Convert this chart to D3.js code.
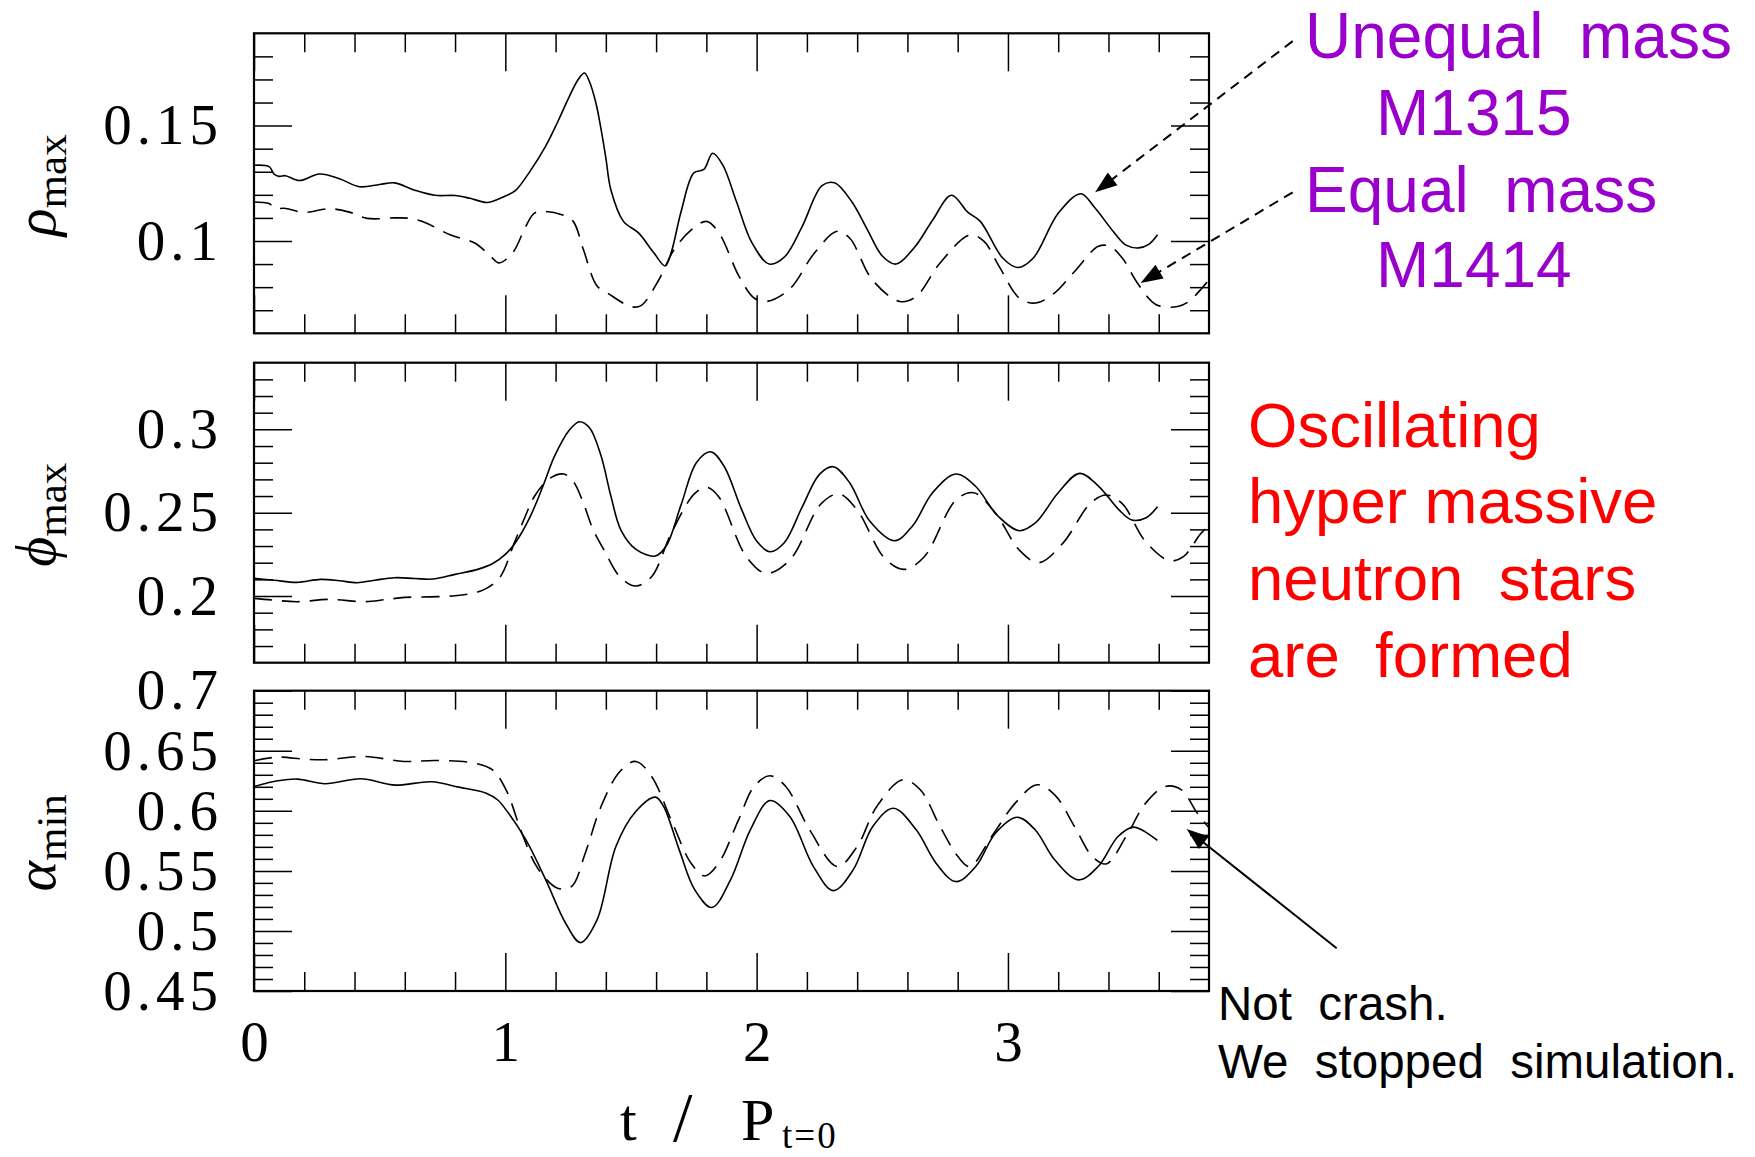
<!DOCTYPE html>
<html><head><meta charset="utf-8">
<script src="https://cdn.jsdelivr.net/npm/d3@7"></script>
<style>html,body{margin:0;padding:0;background:#fff;} svg{display:block;}</style>
</head><body>
<script>
// ---------------- DATA ----------------
// x ticks
const xTickLabels = [0, 1, 2, 3];
// y tick labels per panel
const yLabelsRho = [0.1, 0.15];
const yLabelsPhi = [0.2, 0.25, 0.3];
const yLabelsAlpha = [0.45, 0.5, 0.55, 0.6, 0.65, 0.7];

// rho_max, unequal mass M1315 (solid)
const tRhoU = [0.000,0.060,0.080,0.100,0.125,0.180,0.260,0.340,0.420,0.500,0.560,0.640,0.720,0.800,0.860,0.930,1.000,1.040,1.100,1.160,1.210,1.255,1.290,1.315,1.335,1.360,1.380,1.400,1.420,1.470,1.530,1.590,1.636,1.660,1.700,1.750,1.790,1.825,1.865,1.920,1.980,2.050,2.110,2.180,2.260,2.310,2.380,2.440,2.500,2.555,2.630,2.700,2.775,2.840,2.890,2.980,3.040,3.100,3.200,3.290,3.345,3.420,3.470,3.520,3.560,3.595];
const rhoU  = [0.1328,0.1322,0.1290,0.1280,0.1283,0.1262,0.1290,0.1270,0.1235,0.1245,0.1252,0.1220,0.1198,0.1197,0.1185,0.1167,0.1195,0.1218,0.1305,0.1410,0.1520,0.1627,0.1700,0.1728,0.1690,0.1600,0.1490,0.1360,0.1222,0.1085,0.1035,0.0950,0.0892,0.0950,0.1130,0.1295,0.1310,0.1380,0.1330,0.1170,0.0995,0.0900,0.0930,0.1060,0.1240,0.1252,0.1168,0.1050,0.0935,0.0900,0.0975,0.1090,0.1198,0.1125,0.1085,0.0925,0.0885,0.0925,0.1120,0.1205,0.1145,0.1040,0.0982,0.0970,0.0985,0.1027];
// rho_max, equal mass M1414 (dashed)
const tRhoE = [0.000,0.060,0.085,0.120,0.200,0.300,0.380,0.450,0.560,0.620,0.680,0.780,0.880,0.940,0.975,1.030,1.080,1.115,1.160,1.225,1.270,1.310,1.365,1.410,1.500,1.540,1.610,1.670,1.740,1.800,1.850,1.930,1.990,2.040,2.130,2.230,2.320,2.370,2.460,2.570,2.635,2.730,2.850,2.905,2.965,3.045,3.110,3.185,3.265,3.360,3.405,3.455,3.515,3.590,3.675,3.720,3.800];
const rhoE  = [0.1169,0.1162,0.1140,0.1142,0.1124,0.1140,0.1125,0.1098,0.1100,0.1098,0.1080,0.1027,0.0990,0.0935,0.0905,0.0950,0.1060,0.1120,0.1128,0.1114,0.1085,0.0965,0.0805,0.0772,0.0716,0.0720,0.0830,0.0960,0.1048,0.1085,0.1035,0.0847,0.0753,0.0738,0.0790,0.0948,0.1042,0.1013,0.0832,0.0738,0.0760,0.0905,0.1027,0.0998,0.0890,0.0753,0.0731,0.0774,0.0868,0.0977,0.0977,0.0926,0.0818,0.0724,0.0716,0.0738,0.0832];

// phi_max, unequal (solid)
const tPhiU = [0.000,0.080,0.170,0.265,0.340,0.410,0.480,0.560,0.640,0.710,0.800,0.890,0.950,1.000,1.040,1.100,1.150,1.195,1.255,1.295,1.335,1.380,1.420,1.460,1.520,1.597,1.640,1.700,1.760,1.817,1.870,1.940,2.000,2.053,2.110,2.180,2.250,2.305,2.370,2.450,2.549,2.620,2.700,2.793,2.870,2.960,3.045,3.110,3.200,3.285,3.360,3.440,3.493,3.550,3.595];
const phiU  = [0.2106,0.2095,0.2082,0.2100,0.2092,0.2080,0.2095,0.2110,0.2105,0.2102,0.2130,0.2160,0.2195,0.2250,0.2320,0.2480,0.2660,0.2836,0.2996,0.3046,0.3010,0.2846,0.2600,0.2396,0.2280,0.2240,0.2300,0.2550,0.2800,0.2866,0.2780,0.2520,0.2330,0.2266,0.2320,0.2530,0.2730,0.2776,0.2680,0.2450,0.2332,0.2420,0.2620,0.2732,0.2660,0.2480,0.2392,0.2440,0.2620,0.2736,0.2660,0.2520,0.2456,0.2470,0.2536];
// phi_max, equal (dashed)
const tPhiE = [0.000,0.080,0.170,0.300,0.440,0.520,0.600,0.700,0.800,0.880,0.925,0.980,1.035,1.080,1.115,1.177,1.232,1.271,1.310,1.350,1.393,1.456,1.519,1.582,1.660,1.754,1.802,1.849,1.959,2.038,2.132,2.258,2.329,2.400,2.510,2.588,2.667,2.793,2.864,2.951,3.045,3.123,3.218,3.328,3.391,3.454,3.548,3.643,3.698,3.768,3.800];
const phiE  = [0.1986,0.1975,0.1966,0.1980,0.1966,0.1978,0.1992,0.1995,0.2002,0.2020,0.2046,0.2116,0.2316,0.2480,0.2596,0.2706,0.2732,0.2686,0.2560,0.2396,0.2276,0.2116,0.2060,0.2116,0.2376,0.2616,0.2652,0.2596,0.2236,0.2136,0.2216,0.2556,0.2612,0.2516,0.2226,0.2160,0.2236,0.2576,0.2620,0.2496,0.2276,0.2200,0.2316,0.2556,0.2606,0.2556,0.2326,0.2212,0.2236,0.2376,0.2420];

// alpha_min, unequal (solid)
const tAlpU = [0.000,0.050,0.094,0.173,0.283,0.424,0.563,0.705,0.815,0.924,0.970,1.003,1.082,1.161,1.240,1.299,1.365,1.440,1.519,1.597,1.629,1.692,1.754,1.822,1.896,1.975,2.053,2.132,2.226,2.305,2.384,2.462,2.544,2.635,2.714,2.793,2.872,2.950,3.037,3.108,3.186,3.281,3.359,3.438,3.501,3.595];
const alpU  = [0.6203,0.6230,0.6250,0.6264,0.6225,0.6267,0.6214,0.6242,0.6197,0.6147,0.6090,0.6008,0.5758,0.5425,0.5064,0.4903,0.5092,0.5703,0.5994,0.6114,0.6040,0.5675,0.5342,0.5195,0.5425,0.5842,0.6086,0.5953,0.5536,0.5336,0.5508,0.5869,0.6022,0.5842,0.5564,0.5411,0.5536,0.5814,0.5947,0.5842,0.5592,0.5425,0.5536,0.5786,0.5864,0.5753];
// alpha_min, equal (dashed)
const tAlpE = [0.000,0.094,0.200,0.283,0.440,0.596,0.722,0.878,0.948,1.003,1.066,1.129,1.208,1.263,1.318,1.381,1.456,1.519,1.582,1.660,1.739,1.794,1.849,1.928,1.990,2.053,2.116,2.211,2.321,2.400,2.478,2.581,2.651,2.730,2.801,2.848,2.935,3.029,3.115,3.186,3.265,3.336,3.391,3.470,3.548,3.627,3.690,3.753,3.800];
const alpE  = [0.6417,0.6447,0.6430,0.6425,0.6453,0.6411,0.6419,0.6397,0.6342,0.6175,0.5814,0.5522,0.5356,0.5369,0.5647,0.6036,0.6328,0.6411,0.6286,0.5925,0.5564,0.5458,0.5564,0.5925,0.6203,0.6292,0.6203,0.5842,0.5536,0.5703,0.6036,0.6258,0.6175,0.5869,0.5619,0.5536,0.5786,0.6064,0.6217,0.6133,0.5869,0.5619,0.5558,0.5786,0.6064,0.6203,0.6175,0.5981,0.5860];

// annotation arrows in data coordinates [t, value] (start, tip)
const arrowUnequal = [[4.133, 0.1866], [3.347, 0.1211]];
const arrowEqual   = [[4.133, 0.1211], [3.528, 0.0818]];
const arrowStop    = [[4.308, 0.4856], [3.711, 0.5848]];

// ---------------- LAYOUT ----------------
const W = 1755, H = 1157;
const L = 254, R = 1209;
const svg = d3.select("body").append("svg").attr("width", W).attr("height", H)
  .style("background", "#fff");
svg.append("rect").attr("width", W).attr("height", H).attr("fill", "#fff");

const x = d3.scaleLinear().domain([0, 3.8]).range([L, R]);
const xMinor = d3.range(1, 19).filter(i => i % 5 !== 0).map(i => i / 5);

const SERIF = "'Liberation Serif', 'Times New Roman', serif";
const SANS = "'Liberation Sans', Arial, sans-serif";
const fmt = d => String(+d.toFixed(2));

const panels = [
  {top: 33.3, bottom: 333.3, domain: [0.06, 0.19], labels: yLabelsRho, greek: "ρ", sub: "max",
   series: [[tRhoU, rhoU, false], [tRhoE, rhoE, true]]},
  {top: 362.7, bottom: 662.7, domain: [0.16, 0.34], labels: yLabelsPhi, greek: "ϕ", sub: "max",
   series: [[tPhiU, phiU, false], [tPhiE, phiE, true]]},
  {top: 690.7, bottom: 991, domain: [0.45, 0.70], labels: yLabelsAlpha, greek: "α", sub: "min",
   series: [[tAlpU, alpU, false], [tAlpE, alpE, true]]}
];

function styleAxis(g, w) {
  g.select(".domain").remove();
  g.selectAll(".tick line").attr("stroke", "#000").attr("stroke-width", w);
}

panels.forEach((p, i) => {
  const y = d3.scaleLinear().domain(p.domain).range([p.bottom, p.top]);
  p.y = y;
  const lo = Math.round(p.domain[0] * 100), hi = Math.round(p.domain[1] * 100);
  const yMinor = d3.range(lo + 1, hi).filter(v => v % 5 !== 0).map(v => v / 100);
  const yMajor = d3.range(lo, hi + 1).filter(v => v % 5 === 0).map(v => v / 100);

  // clip
  svg.append("clipPath").attr("id", "clip" + i).append("rect")
    .attr("x", L).attr("y", p.top).attr("width", R - L).attr("height", p.bottom - p.top);

  // left axis major with labels
  const gl = svg.append("g").attr("transform", `translate(${L},0)`)
    .call(d3.axisLeft(y).tickValues(yMajor).tickSize(-38).tickPadding(31)
      .tickFormat(d => p.labels.some(v => Math.abs(v - d) < 1e-9) ? fmt(d) : ""));
  gl.attr("font-family", SERIF).attr("font-size", 57);
  gl.selectAll("text").attr("letter-spacing", 5).attr("fill", "#000");
  styleAxis(gl, 1.5);
  const glm = svg.append("g").attr("transform", `translate(${L},0)`)
    .call(d3.axisLeft(y).tickValues(yMinor).tickSize(-19).tickFormat(""));
  styleAxis(glm, 1.5);
  // right axis
  const gr = svg.append("g").attr("transform", `translate(${R},0)`)
    .call(d3.axisRight(y).tickValues(yMajor).tickSize(-38).tickFormat(""));
  styleAxis(gr, 1.5);
  const grm = svg.append("g").attr("transform", `translate(${R},0)`)
    .call(d3.axisRight(y).tickValues(yMinor).tickSize(-19).tickFormat(""));
  styleAxis(grm, 1.5);
  // top axis
  const gt = svg.append("g").attr("transform", `translate(0,${p.top})`)
    .call(d3.axisTop(x).tickValues(xTickLabels).tickSize(-38).tickFormat(""));
  styleAxis(gt, 1.5);
  const gtm = svg.append("g").attr("transform", `translate(0,${p.top})`)
    .call(d3.axisTop(x).tickValues(xMinor).tickSize(-19).tickFormat(""));
  styleAxis(gtm, 1.5);
  // bottom axis
  const gb = svg.append("g").attr("transform", `translate(0,${p.bottom})`)
    .call(d3.axisBottom(x).tickValues(xTickLabels).tickSize(-38).tickPadding(30)
      .tickFormat(i === 2 ? d3.format("d") : ""));
  gb.attr("font-family", SERIF).attr("font-size", 57);
  gb.selectAll("text").attr("fill", "#000");
  styleAxis(gb, 1.5);
  const gbm = svg.append("g").attr("transform", `translate(0,${p.bottom})`)
    .call(d3.axisBottom(x).tickValues(xMinor).tickSize(-19).tickFormat(""));
  styleAxis(gbm, 1.5);

  // curves
  const line = d3.line().x(d => x(d[0])).y(d => y(d[1])).curve(d3.curveCatmullRom.alpha(0.5));
  p.series.forEach(([t, v, dashed]) => {
    svg.append("path").datum(d3.zip(t, v))
      .attr("clip-path", `url(#clip${i})`)
      .attr("d", line).attr("fill", "none").attr("stroke", "#000")
      .attr("stroke-width", 1.6)
      .attr("stroke-dasharray", dashed ? "18,10" : null);
  });

  // frame
  svg.append("rect").attr("x", L).attr("y", p.top).attr("width", R - L)
    .attr("height", p.bottom - p.top).attr("fill", "none")
    .attr("stroke", "#000").attr("stroke-width", 2.2);

  // y title
  const cy = (p.top + p.bottom) / 2 + 2;
  const tt = svg.append("text").attr("transform", `translate(55,${cy}) rotate(-90)`)
    .attr("text-anchor", "middle").attr("font-family", SERIF).attr("fill", "#000");
  tt.append("tspan").attr("font-size", 58).attr("font-style", "italic").text(p.greek);
  tt.append("tspan").attr("font-size", 43).attr("dy", 11).text(p.sub);
});

// x-axis title
svg.append("text").attr("x", 620).attr("y", 1140).attr("font-family", SERIF)
  .attr("font-size", 60).text("t");
svg.append("text").attr("x", 673).attr("y", 1141).attr("font-family", SERIF)
  .attr("font-size", 70).text("/");
svg.append("text").attr("x", 741).attr("y", 1140).attr("font-family", SERIF)
  .attr("font-size", 60).text("P");
svg.append("text").attr("x", 782).attr("y", 1148).attr("font-family", SERIF)
  .attr("font-size", 37).attr("letter-spacing", 2).text("t=0");

// annotations
function arrow(pts, yScale, dashed) {
  const [s, e] = pts.map(d => [x(d[0]), yScale(d[1])]);
  const ang = Math.atan2(e[1] - s[1], e[0] - s[0]);
  const len = 22, hw = 8;
  const bx = e[0] - len * Math.cos(ang), by = e[1] - len * Math.sin(ang);
  svg.append("line").attr("x1", s[0]).attr("y1", s[1]).attr("x2", bx + 4 * Math.cos(ang)).attr("y2", by + 4 * Math.sin(ang))
    .attr("stroke", "#000").attr("stroke-width", 2)
    .attr("stroke-dasharray", dashed ? "10,7" : null);
  const p1 = [bx + hw * Math.sin(ang), by - hw * Math.cos(ang)];
  const p2 = [bx - hw * Math.sin(ang), by + hw * Math.cos(ang)];
  svg.append("path").attr("d", `M${e[0]},${e[1]}L${p1[0]},${p1[1]}L${p2[0]},${p2[1]}Z`).attr("fill", "#000");
}
arrow(arrowUnequal, panels[0].y, true);
arrow(arrowEqual, panels[0].y, true);
arrow(arrowStop, panels[2].y, false);

const purple = "#9900CC";
[["Unequal  mass", 1305, 58], ["M1315", 1376, 135], ["Equal  mass", 1305, 212], ["M1414", 1376, 287]]
  .forEach(([s, tx, ty]) => svg.append("text").attr("x", tx).attr("y", ty)
    .attr("font-family", SANS).attr("font-size", 64).attr("fill", purple)
    .style("white-space", "pre").text(s));

[["Oscillating", 446.7], ["hyper massive", 523.3], ["neutron  stars", 600], ["are  formed", 676.7]]
  .forEach(([s, ty]) => svg.append("text").attr("x", 1248).attr("y", ty)
    .attr("font-family", SANS).attr("font-size", 63.5).attr("fill", "#FF0000")
    .style("white-space", "pre").text(s));

[["Not  crash.", 1020], ["We  stopped  simulation.", 1078]]
  .forEach(([s, ty]) => svg.append("text").attr("x", 1218).attr("y", ty)
    .attr("font-family", SANS).attr("font-size", 47.5).attr("fill", "#000")
    .style("white-space", "pre").text(s));
</script>
</body></html>
